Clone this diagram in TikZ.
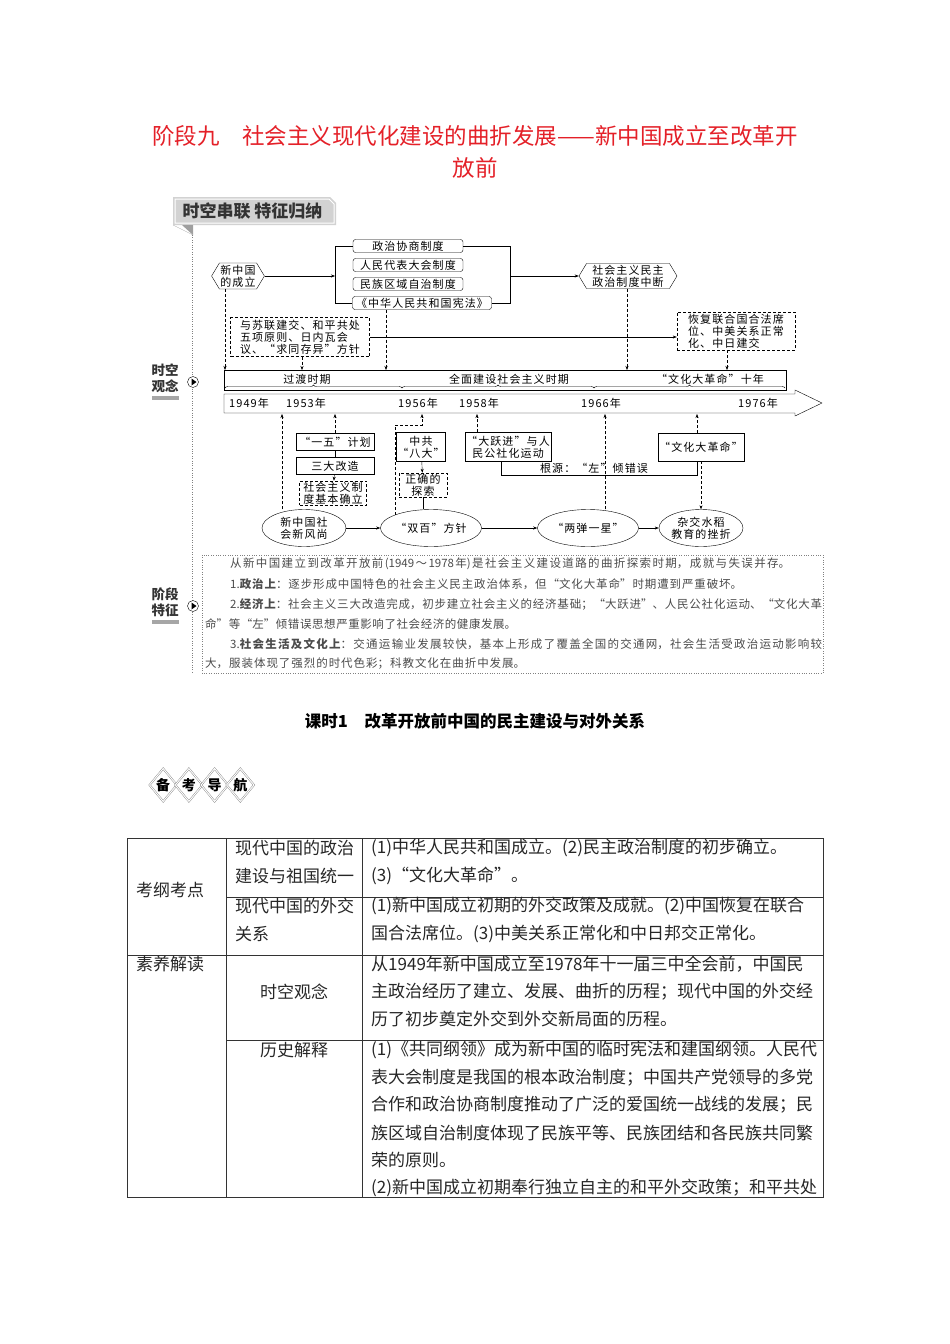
\documentclass[tikz,border=0pt]{standalone}
\usepackage{fontspec}
\setmainfont{Noto Sans CJK SC}
\newfontfamily\boxfont{Noto Sans CJK SC}[LetterSpace=10]
\usetikzlibrary{positioning,arrows.meta,shapes.geometric,shapes.symbols,decorations.pathreplacing}
\XeTeXlinebreaklocale "zh"
\XeTeXlinebreakskip=0pt plus 3pt minus 0.3pt
\newcommand{\fsz}[2]{\fontsize{#1}{#2}\selectfont}
\newcommand{\jline}[2]{\parbox{#1}{\parfillskip=0pt\relax #2}}
\definecolor{titlered}{RGB}{228,32,40}
\definecolor{featgray}{RGB}{75,75,75}

\tikzset{
  >={Stealth[length=4pt,width=3pt]},
  rbox/.style={draw, rounded corners=2.5pt, inner sep=0pt, minimum height=13, font=\boxfont\fsz{11}{12}},
  sbox/.style={draw, inner sep=1pt, align=center, font=\boxfont\fsz{11}{12}},
  dbox/.style={sbox, densely dashed},
  hexa/.style={draw, signal, signal to=west and east, signal pointer angle=118, inner sep=1pt, align=center, font=\boxfont\fsz{11}{12}},
  oval/.style={draw, ellipse, minimum width=84, minimum height=37, inner sep=0pt, align=center, font=\boxfont\fsz{11}{12}},
  dline/.style={densely dashed, ->},
  prdbrace/.style={decorate, decoration={brace, amplitude=3pt}},
  feat/.style={anchor=west, inner sep=0pt, font=\fsz{11.5}{12}, text=featgray},
  cell/.style={anchor=west, inner sep=0pt, font=\fsz{17}{18}, text=black!85}
}

\begin{document}
\begin{tikzpicture}[x=1pt,y=-1pt]
\useasboundingbox (0,0) rectangle (950,1344);

% title
\node[font=\fsz{22.5}{24}, text=titlered] (ttl1) at (475,136) {阶段九\quad 社会主义现代化建设的曲折发展——新中国成立至改革开};
\node[font=\fsz{22.5}{24}, text=titlered] (ttl2) at (475,168) {放前};

% tab
\fill[gray!35] (173,197) -- (330,197) -- (336,203) -- (336,225) -- (173,225) -- cycle;
\draw[white, line width=1pt] (175,199) -- (329,199) -- (334,204) -- (334,223) -- (175,223) -- cycle;
\fill[gray!75] (182,225) -- (193,225) -- (193,235) -- cycle;
\draw[gray!60] (173,225) -- (193,235);
\node[anchor=west, font=\fsz{17}{18}\bfseries, text=black!80] (tab) at (179,211) {时空串联\ 特征归纳};
\draw[dotted, gray] (192,235) -- (192,672);

% side labels
\node[align=center, font=\fsz{13.5}{16}\bfseries, text=black!80] (skgn) at (165,378) {时空\\观念};
\node[circle, draw, fill=white, minimum size=11, inner sep=0pt] (pb1) at (193,382) {};
\fill (191.5,378.5) -- (196.5,382) -- (191.5,385.5) -- cycle;
\fill[gray!70] (152,396) rectangle (179,400);
\node[align=center, font=\fsz{13.5}{16}\bfseries, text=black!80] (jdtz) at (165,602) {阶段\\特征};
\node[circle, draw, fill=white, minimum size=11, inner sep=0pt] (pb2) at (193,606) {};
\fill (191.5,602.5) -- (196.5,606) -- (191.5,609.5) -- cycle;
\fill[gray!70] (152,620) rectangle (179,624);

% upper part
\node[hexa, minimum width=49, minimum height=26] (xl) at (238,276) {新中国\\的成立};
\node[rbox, minimum width=110] (zx) at (408,246) {政治协商制度};
\node[rbox, minimum width=110] (rd) at (408,265) {人民代表大会制度};
\node[rbox, minimum width=110] (mz) at (408,284) {民族区域自治制度};
\node[rbox, minimum width=139] (xf) at (422,303) {《中华人民共和国宪法》};
\coordinate (bla) at (335,246);
\coordinate (blb) at (335,303);
\coordinate (bl) at (335,276);
\coordinate (bra) at (510,246);
\coordinate (brb) at (510,303);
\coordinate (br) at (510,276);
\draw (zx.west) -- (bla) -- (blb) -- (xf.west);
\draw (zx.east) -- (bra) -- (brb) -- (xf.east);
\draw[->] (xl.east) -- (bl);
\node[hexa, minimum width=98, minimum height=25] (zd) at (628,276) {社会主义民主\\政治制度中断};
\draw[->] (br) -- (zd.west);
\node[dbox, align=left, minimum width=139, minimum height=39] (sl) at (300,337) {与苏联建交、和平共处\\五项原则、日内瓦会\\议、“求同存异”方针};
\node[dbox, align=left, minimum width=118, minimum height=38] (hf) at (736,331) {恢复联合国合法席\\位、中美关系正常\\化、中日建交};
\draw[->] (sl.east) -- (sl.east -| hf.west);

% timeline
\node[draw, minimum width=562, minimum height=20, inner sep=0pt] (band) at (505,380) {};
\draw[prdbrace] (225,388) -- (402,388);
\draw[prdbrace] (402,388) -- (594,388);
\draw[prdbrace] (594,388) -- (785,388);
\node[font=\boxfont\fsz{11}{12}] (p1) at (307,379) {过渡时期};
\node[font=\boxfont\fsz{11}{12}] (p2) at (509,379) {全面建设社会主义时期};
\node[font=\boxfont\fsz{11}{12}] (p3) at (710,379) {“文化大革命”十年};
\draw (224,394) -- (795,394) -- (795,390) -- (822,403) -- (795,416) -- (795,413) -- (224,413) -- cycle;
\foreach \yr/\xx in {1949/249,1953/306,1956/418,1958/479,1966/601,1976/758}
  \node[font=\boxfont\fsz{11}{12}] (y\yr) at (\xx,403) {\yr 年};

% arrows into timeline from above
\coordinate (t1) at (225,370);
\coordinate (t2) at (302,370);
\coordinate (t3) at (386,370);
\coordinate (t4) at (627,370);
\coordinate (t5) at (727,370);
\draw[dline] (xl.south -| t1) -- (t1);
\draw[dline] (sl.south -| t2) -- (t2);
\draw[dline] (xf.south -| t3) -- (t3);
\draw[dline] (zd.south -| t4) -- (t4);
\draw[dline] (hf.south -| t5) -- (t5);

% lower part
\node[sbox, minimum width=78, minimum height=17] (yw) at (335,442) {“一五”计划};
\node[sbox, minimum width=78, minimum height=17] (sd) at (335,466) {三大改造};
\node[dbox, minimum width=67, minimum height=24] (zq) at (333,493) {社会主义制\\度基本确立};
\node[sbox, minimum width=44, minimum height=29] (bd) at (421,447) {中共\\“八大”};
\node[dbox, minimum width=48, minimum height=24] (ts) at (423,485) {正确的\\探索};
\node[sbox, minimum width=85, minimum height=29] (dy) at (508,447) {“大跃进”与人\\民公社化运动};
\node[sbox, minimum width=84, minimum height=28] (wg) at (701,447) {“文化大革命”};
\node[oval] (e1) at (304,528) {新中国社\\会新风尚};
\node[oval, minimum width=92] (e2) at (431,528) {“双百”方针};
\node[oval] (e3) at (588,528) {“两弹一星”};
\node[oval] (e4) at (701,528) {杂交水稻\\教育的挫折};
\draw (yw) -- (sd);
\draw[->] (sd) -- (zq);
\draw[->] (bd) -- (ts);
\draw (ts.south) -- (ts.south |- e2.north);
\draw[->] (e1) -- (e2);
\draw[->] (e2) -- (e3);
\draw[->] (e3) -- (e4);
\draw[dline] (wg) -- (e4);
\coordinate (gy1) at (501,475);
\coordinate (gy2) at (697,475);
\draw (dy.south -| gy1) -- (gy1) -- (gy2) -- (wg.south -| gy2);
\node[font=\boxfont\fsz{11}{12}, inner sep=1pt] (gl) at (594,468) {根源：“左”倾错误};

% arrows into timeline from below
\coordinate (b1) at (282,414);
\coordinate (b2) at (335,414);
\coordinate (b3c) at (422,425);
\coordinate (b3) at (422,414);
\coordinate (b4) at (477,414);
\coordinate (b5) at (605,414);
\coordinate (b6) at (697,414);
\draw[dline] (e1.north -| b1) -- (b1);
\draw[dline] (yw.north) -- (b2);
\draw[dline] (e2.north west) |- (b3c) -- (b3);
\draw[dline] (dy.north -| b4) -- (b4);
\draw[dline] (e3.north -| b5) -- (b5);
\draw[dline] (wg.north -| b6) -- (b6);

% features
\draw[dotted, gray] (202,555) rectangle (823,673);
\node[feat] (f0) at (230,564) {\jline{560pt}{从新中国建立到改革开放前(1949～1978年)是社会主义建设道路的曲折探索时期，成就与失误并存。}};
\node[feat] (f1) at (230,584) {\jline{512pt}{1.\textbf{政治上}：逐步形成中国特色的社会主义民主政治体系，但“文化大革命”时期遭到严重破坏。}};
\node[feat] (f2) at (230,604) {\jline{592pt}{2.\textbf{经济上}：社会主义三大改造完成，初步建立社会主义的经济基础；“大跃进”、人民公社化运动、“文化大革}};
\node[feat] (f3) at (205,624) {\jline{311pt}{命”等“左”倾错误思想严重影响了社会经济的健康发展。}};
\node[feat] (f4) at (230,644) {\jline{592pt}{3.\textbf{社会生活及文化上}：交通运输业发展较快，基本上形成了覆盖全国的交通网，社会生活受政治运动影响较}};
\node[feat] (f5) at (205,664) {\jline{320pt}{大，服装体现了强烈的时代色彩；科教文化在曲折中发展。}};

% lesson title
\node[font=\fsz{16.5}{18}\bfseries] (ks) at (475,721) {课时1\quad 改革开放前中国的民主建设与对外关系};

% diamonds
\foreach \ch [count=\i] in {备,考,导,航}
  \node[diamond, draw=gray, double=white, double distance=1pt, fill=white, minimum width=27, minimum height=33, inner sep=0pt, font=\fsz{14}{14}\bfseries] (bk\i) at ({137.5+25.7*\i},785) {\ch};

% table
\draw[black!80] (127,838) rectangle (823,1197);
\draw[black!80] (226,838) -- (226,1197);
\draw[black!80] (362,838) -- (362,1197);
\draw[black!80] (226,897) -- (823,897);
\draw[black!80] (127,955) -- (823,955);
\draw[black!80] (226,1040) -- (823,1040);
\node[cell] (kg) at (136,890) {考纲考点};
\node[cell] (sy) at (136,964) {素养解读};
\node[cell] (c21) at (235,848) {现代中国的政治};
\node[cell] (c22) at (235,876) {建设与祖国统一};
\node[cell] (c23) at (235,906) {现代中国的外交};
\node[cell] (c24) at (235,934) {关系};
\node[cell, anchor=center] (skgn2) at (294,992) {时空观念};
\node[cell, anchor=center] (lsjs) at (294,1050) {历史解释};
\node[cell] (r1) at (371,848) {(1)中华人民共和国成立。(2)民主政治制度的初步确立。};
\node[cell] (r2) at (371,876) {(3)“文化大革命”。};
\node[cell] (r3) at (371,906) {(1)新中国成立初期的外交政策及成就。(2)中国恢复在联合};
\node[cell] (r4) at (371,934) {国合法席位。(3)中美关系正常化和中日邦交正常化。};
\node[cell] (r5) at (371,964) {从1949年新中国成立至1978年十一届三中全会前，中国民};
\node[cell] (r6) at (371,992) {主政治经历了建立、发展、曲折的历程；现代中国的外交经};
\node[cell] (r7) at (371,1019) {历了初步奠定外交到外交新局面的历程。};
\node[cell] (r8) at (371,1050) {(1)《共同纲领》成为新中国的临时宪法和建国纲领。人民代};
\node[cell] (r9) at (371,1078) {表大会制度是我国的根本政治制度；中国共产党领导的多党};
\node[cell] (r10) at (371,1105) {合作和政治协商制度推动了广泛的爱国统一战线的发展；民};
\node[cell] (r11) at (371,1133) {族区域自治制度体现了民族平等、民族团结和各民族共同繁};
\node[cell] (r12) at (371,1160) {荣的原则。};
\node[cell] (r13) at (371,1188) {(2)新中国成立初期奉行独立自主的和平外交政策；和平共处};
\end{tikzpicture}
\end{document}
